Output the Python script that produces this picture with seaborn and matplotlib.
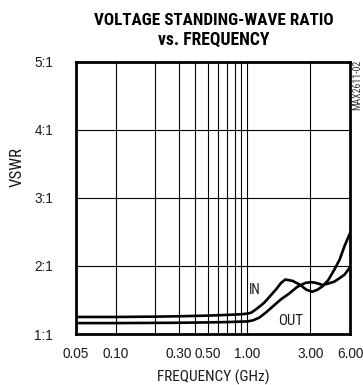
import matplotlib
matplotlib.use("Agg")
import matplotlib.pyplot as plt
import numpy as np
import pandas as pd
import seaborn as sns
from matplotlib import font_manager
from matplotlib.ticker import FixedLocator, FixedFormatter, NullLocator

# ---- data ----
freq_in = [0.05, 0.1, 0.2, 0.3, 0.5, 0.7, 0.9, 1.0, 1.06, 1.12, 1.25, 1.34, 1.43,
           1.64, 1.8, 1.94, 2.2, 2.52, 2.8, 3.1, 3.4, 3.71, 4.1, 4.58, 5.0, 5.45, 6.0]
vswr_in = [1.25, 1.25, 1.255, 1.26, 1.27, 1.28, 1.29, 1.30, 1.31, 1.34, 1.41, 1.46, 1.52,
           1.65, 1.75, 1.80, 1.78, 1.72, 1.65, 1.62, 1.65, 1.70, 1.79, 1.95, 2.09, 2.29, 2.48]

freq_out = [0.05, 0.1, 0.3, 0.5, 0.7, 1.0, 1.1, 1.23, 1.39, 1.59, 1.8, 2.06, 2.38,
            2.75, 3.0, 3.22, 3.45, 3.71, 4.1, 4.58, 5.0, 5.45, 6.0]
vswr_out = [1.16, 1.16, 1.165, 1.17, 1.175, 1.185, 1.20, 1.24, 1.32, 1.42, 1.51, 1.59, 1.69,
            1.75, 1.76, 1.755, 1.74, 1.72, 1.74, 1.77, 1.82, 1.87, 1.98]

x_ticks = [0.05, 0.10, 0.30, 0.50, 1.00, 3.00, 6.00]
x_tick_labels = ["0.05", "0.10", "0.30", "0.50", "1.00", "3.00", "6.00"]
x_grid = [0.1, 0.2, 0.3, 0.4, 0.5, 0.6, 0.7, 0.8, 0.9, 1.0, 3.0]
y_ticks = [1, 2, 3, 4, 5]
y_tick_labels = ["1:1", "2:1", "3:1", "4:1", "5:1"]
y_grid = [2, 3, 4]

title_lines = ["VOLTAGE STANDING-WAVE RATIO", "vs. FREQUENCY"]
x_label = "FREQUENCY (GHz)"
y_label = "VSWR"
series_names = ["IN", "OUT"]
code_text = "MAX2611-02"

# ---- fonts ----
sns.set_style("white")
available = {f.name for f in font_manager.fontManager.ttflist}


def pick(cands):
    for c in cands:
        if c in available:
            return [c, "DejaVu Sans"]
    return ["DejaVu Sans"]


plt.rcParams["font.family"] = pick(["Liberation Sans", "Arimo", "DejaVu Sans"])
narrow = pick(["Roboto Condensed", "Archivo Narrow", "PT Sans Narrow", "Fira Sans Condensed",
               "IBM Plex Sans Condensed", "Barlow Semi Condensed", "Liberation Sans"])
heavy = pick(["Roboto Condensed", "Archivo Narrow", "Fira Sans Condensed", "Barlow Semi Condensed",
              "PT Sans Narrow", "Liberation Sans"])
txt_color = "#1a1a1a"

df = pd.concat([
    pd.DataFrame({"freq": freq_in, "vswr": vswr_in, "series": series_names[0]}),
    pd.DataFrame({"freq": freq_out, "vswr": vswr_out, "series": series_names[1]}),
], ignore_index=True)

W, H = 363, 385
fig = plt.figure(figsize=(W / 100, H / 100), dpi=100)
left, right, top, bottom = 76, 350, 61.5, 334
ax = fig.add_axes([left / W, 1 - bottom / H, (right - left) / W, (bottom - top) / H])

for xv in x_grid:
    ax.axvline(xv, color="black", lw=0.8, zorder=1)
for yv in y_grid:
    ax.axhline(yv, color="black", lw=0.8, zorder=1)

sns.lineplot(data=df, x="freq", y="vswr", hue="series",
             palette={series_names[0]: "black", series_names[1]: "black"},
             estimator=None, sort=False, legend=False, lw=1.9, ax=ax, zorder=3)

ax.set_xscale("log")
ax.set_xlim(0.05, 6.0)
ax.set_ylim(1, 5)
ax.xaxis.set_major_locator(FixedLocator(x_ticks))
ax.xaxis.set_major_formatter(FixedFormatter(x_tick_labels))
ax.xaxis.set_minor_locator(NullLocator())
ax.yaxis.set_major_locator(FixedLocator(y_ticks))
ax.yaxis.set_major_formatter(FixedFormatter(y_tick_labels))
ax.yaxis.set_minor_locator(NullLocator())
ax.tick_params(axis="x", length=0, pad=9.5, labelsize=9.8, labelcolor=txt_color)
ax.tick_params(axis="y", length=0, pad=16.5, labelsize=9.8, labelcolor=txt_color)
ax.set_xlabel("")
ax.set_ylabel("")
for s in ax.spines.values():
    s.set_visible(True)
    s.set_linewidth(2.0)
    s.set_color("black")

# curve labels
t_in = ax.text(1.03, 1.64, series_names[0], family=narrow, fontsize=10.5, color=txt_color,
               ha="left", va="center", zorder=4)
t_out = ax.text(2.12, 1.19, series_names[1], family=narrow, fontsize=10.5, color=txt_color,
                ha="center", va="center", zorder=4)

# titles and axis labels
t1 = fig.text(213.5 / W, 1 - 25.3 / H, title_lines[0], family=heavy, fontweight=900,
              fontsize=12.3, ha="center", va="baseline", color="black")
t2 = fig.text(213.5 / W, 1 - 45.0 / H, title_lines[1], family=heavy, fontweight=900,
              fontsize=12.3, ha="center", va="baseline", color="black")
tx = fig.text(213.3 / W, 1 - 381.5 / H, x_label, family=narrow, fontsize=10.5,
              ha="center", va="baseline", color=txt_color)
ty = fig.text(17.5 / W, 1 - 166.7 / H, y_label, family=narrow, fontsize=11, rotation=90,
              ha="center", va="center", color=txt_color)
tc = fig.text(357.5 / W, 1 - 85 / H, code_text, family=narrow, fontsize=4.5, rotation=90,
              ha="center", va="center", color="#333333")

# fit the text sizes to the widths measured on the reference (pixels)
targets = [(t1, 239, "w"), (t2, 111.7, "w"), (tx, 113, "w"), (ty, 40, "h"),
           (t_out, 25, "w"), (t_in, 11.7, "w"), (tc, 50, "h")]
for _ in range(2):
    fig.canvas.draw()
    r = fig.canvas.get_renderer()
    for t, tgt, dim in targets:
        bb = t.get_window_extent(r)
        cur = bb.width if dim == "w" else bb.height
        if cur > 0:
            t.set_fontsize(t.get_fontsize() * tgt / cur)

fig.savefig("out.png", dpi=100)
